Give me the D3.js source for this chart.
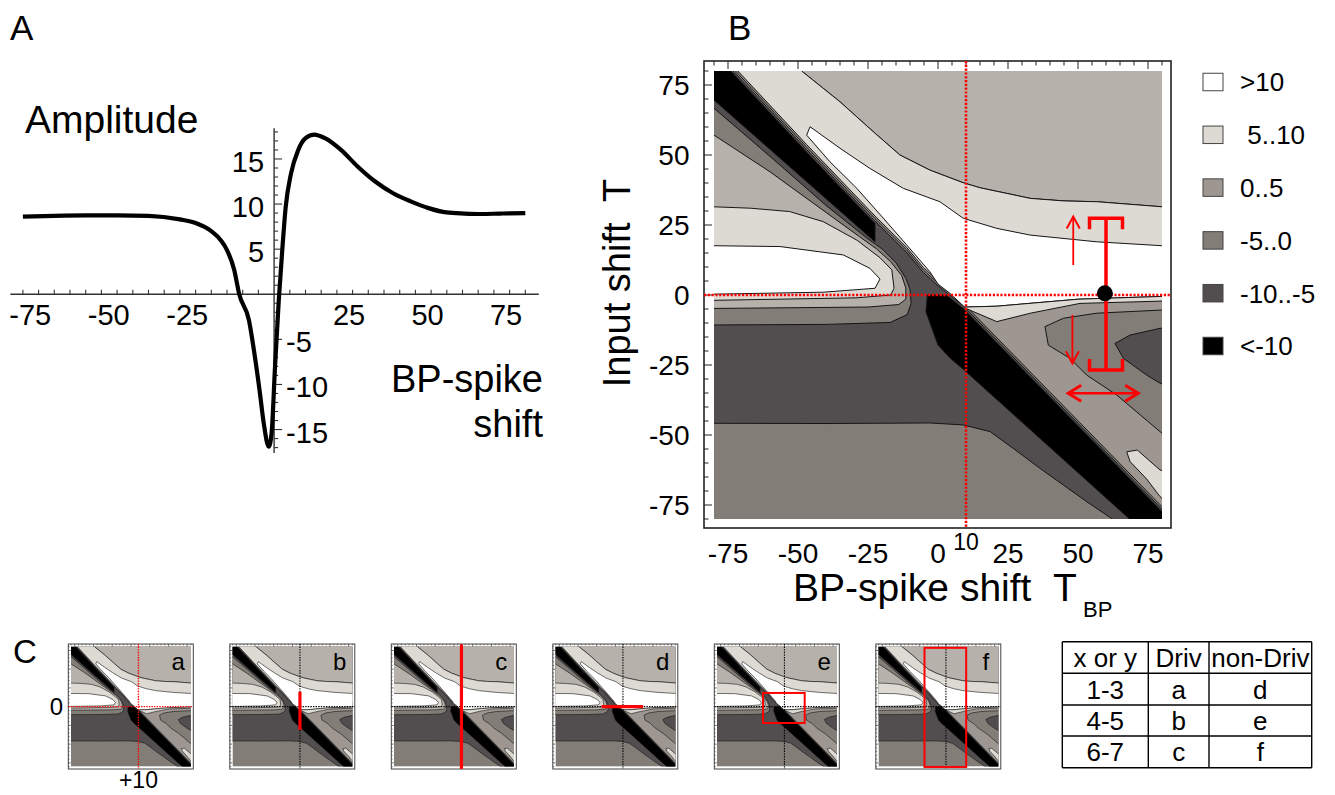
<!DOCTYPE html>
<html><head><meta charset="utf-8">
<script src="https://cdn.jsdelivr.net/npm/d3@7"></script>
<style>
body{margin:0;background:#fff;}
svg text{font-family:"Liberation Sans",Arial,Helvetica,sans-serif;fill:#000;}
</style></head><body>
<svg id="fig" width="1335" height="795"></svg>
<script>
// ================= DATA =================
// Panel A : amplitude vs BP-spike shift
const bpShift   = [-80,-70,-60,-50,-40,-30,-25,-20,-17,-15,-12.7,-11.1,-8,-6.3,-4.5,-3.3,-1.7,-0.8,0.3,1.5,2.6,3.7,5.4,7.7,10,12.8,16.2,21.3,26.5,32.2,37.9,43.5,49.2,54.9,60.6,66,72,80];
const amplitude = [8.6,8.7,8.75,8.75,8.7,8.3,7.9,7.0,6.0,4.9,2.7,0,-2.9,-6.5,-11,-14.3,-16.9,-15.4,-8,-0.6,4.9,9.7,13.4,16,17.3,17.7,17.3,16,14.2,12.5,11.2,10.3,9.55,9.07,8.95,8.9,8.95,9.0];
const xTicksA = [-75,-50,-25,25,50,75];
const yTicksPosA = [5,10,15];
const yTicksNegA = [-5,-10,-15];

// Panel B : axis ticks and markers
const ticksB = [-75,-50,-25,0,25,50,75];
const markShiftBP = 10;   // dotted vertical line (T_BP)
const markShiftT = 0;     // dotted horizontal line (T)
const workPoint = [59.6, 0.6];
const rangeBar = [60, 27.4, -26.8];      // x, top, bottom
const arrowUp = [48.3, 10.7, 28];        // x, from, to
const arrowDown = [48, -7.1, -24.4];
const arrowLR = [-35.1, 46.5, 71.5];     // y, from, to
const legendLabels = [">10", " 5..10", "0..5", "-5..0", "-10..-5", "<-10"];

// Panel B : contour boundaries (T_BP, T)
const diagEdge = [[-86,92],[-74,80],[-46.9,51],[-22.5,25.5],[-11.2,14.3],[-5.2,7.1],[0,2.4],[9,-4.8],[40,-36.5],[80,-77.4],[86,-83.4]];
const blackUpper = [[-86,92],[-74,80],[-46.9,51],[-22.5,25.5],[-22.5,19],[-80,69.6],[-86,74.9]];
const blackLower = [[-3.8,0],[3,0],[9,-4.8],[40,-36.5],[80,-77.4],[86,-83.4],[86,-86],[70,-86],[68.4,-80],[9,-26.5],[4.3,-22.5],[0,-17.9],[-4.3,-6]];
const darkLowerEdge = [[-86,-45.8],[-40,-45.9],[-2.9,-45.7],[9,-46.4],[18.6,-48.8],[26.9,-54.8],[36.4,-61.9],[44.8,-67.9],[53.1,-73.8],[62,-79.8],[66.3,-86]];
const upperBand5 = [[-49.5,86],[-48.7,80],[-35,69],[-23.1,58.3],[-13.6,50],[-2.9,44.6],[9,40.1],[15,38.3],[33,34.5],[45,33.6],[57,33.3],[80,31.5],[86,31.2]];
const upperBand10 = [[-45.7,60.1],[-35,52.4],[-24.3,45.2],[-12.4,38.1],[0.7,33.3],[9,27.4],[21,23.8],[32.9,21.4],[56.7,19],[80,17.6],[86,17.3]];
const whiteDiagEdge = [[9.5,-4.3],[4,0.8],[0,3.9],[-2.9,8.3],[-11.2,17.9],[-19.5,27.4],[-29,38.1],[-38.6,47.6],[-46.9,57.1]];
const lowStrip10 = [[86,-0.3],[50,-1.5],[21,-4],[9.5,-4.3]];
const lowStrip5 = [[9.5,-4.6],[21,-9.5],[33,-6.5],[50.7,-3],[86,-2]];
const pocketMid = [[86,-5.3],[79.3,-5.4],[56.7,-6.5],[44.8,-8.3],[38.2,-11.3],[39.4,-17.9],[47.1,-22.6],[53.1,-28.6],[63.8,-35.7],[79.3,-48.8],[86,-54]];
const pocketDark = [[86,-11.5],[79.3,-11.9],[68.6,-14.3],[63.2,-17.3],[66.2,-22.6],[74.5,-28.6],[79.3,-31.5],[86,-34]];
const pocketLight = [[86,-64],[79.3,-62.5],[71.2,-55.4],[67.4,-56],[68.6,-59.5],[74.5,-65.7],[79.3,-72],[86,-78]];
const hookM5 = [[-86,71.5],[-80,66.7],[-60,49.5],[-40,32],[-25,20],[-20,16.5],[-15,11.5],[-11.5,6],[-10,2],[-9.6,-3],[-11,-7],[-17.1,-9.8],[-40,-10.5],[-80,-10.7],[-86,-10.7]];
const hook0 = [[-86,61],[-80,57.1],[-60,44],[-40,29.5],[-28,20.8],[-22,16.5],[-17,12],[-13,7],[-11.5,2.5],[-11.5,-1.5],[-14,-3.4],[-25,-4.3],[-80,-4.8],[-86,-4.8]];
const hook5 = [[-86,31.5],[-80,31.5],[-67,31],[-53,29.8],[-41,26.2],[-29,19.6],[-20.7,13.3],[-16.5,9],[-15.7,2.4],[-16.9,0],[-29,-1],[-80,-1.9],[-86,-1.9]];
const hook10 = [[-86,17.6],[-80,17.6],[-56.4,17.3],[-33.8,14.3],[-24.3,9.5],[-20.7,5.7],[-22.5,2.4],[-41,1],[-80,0.3],[-86,0.3]];

// Panel C
const panelLetters = ["a","b","c","d","e","f"];
const miniMarks = [
  null,
  {type:"bar",  pts:[[10,20],[10,-31]]},
  {type:"bar",  pts:[[10,83],[10,-83]]},
  {type:"bar",  pts:[[-18.5,0],[37,0]]},
  {type:"rect", pts:[[-18.6,18.3],[37,-21.8]]},
  {type:"rect", pts:[[-18.6,78.5],[37,-80.5]]}
];
const tableHeader = ["x or y","Driv","non-Driv"];
const tableRows = [["1-3","a","d"],["4-5","b","e"],["6-7","c","f"]];

// ================= STYLE =================
const COL = {white:"#ffffff", light:"#dddad4", pale:"#b6b1aa", c0:"#9e9791", mid:"#827d77", dark:"#524e4f", black:"#000000"};
const legendColors = [COL.white, COL.light, COL.c0, COL.mid, COL.dark, COL.black];
const RED = "#f00";

const svg = d3.select("#fig");
const defs = svg.append("defs");

function txt(g, s, x, y, size, anchor){
  return g.append("text").attr("x",x).attr("y",y).attr("font-size",size)
    .attr("text-anchor",anchor||"start").style("white-space","pre").text(s);
}

// ================= PANEL A =================
const gA = svg.append("g");
const xA = d3.scaleLinear().domain([-80,80]).range([22.9,525.3]);
const yA = d3.scaleLinear().domain([-17.6,18.4]).range([453,128.3]);
gA.append("line").attr("x1",xA(-84)).attr("x2",xA(84.3)).attr("y1",yA(0)).attr("y2",yA(0))
  .attr("stroke","#333").attr("stroke-width",1.4);
gA.append("line").attr("x1",xA(0)).attr("x2",xA(0)).attr("y1",yA(-17.6)).attr("y2",yA(18.4))
  .attr("stroke","#333").attr("stroke-width",1.4);
d3.range(-80,81,5).filter(v=>v!==0).forEach(v=>{
  gA.append("line").attr("x1",xA(v)).attr("x2",xA(v)).attr("y1",yA(0)).attr("y2",yA(0)-4.5)
    .attr("stroke","#333").attr("stroke-width",1.1);
});
d3.range(-17,19).filter(v=>v!==0).forEach(v=>{
  gA.append("line").attr("x1",xA(0)).attr("x2",xA(0)+(v%5===0?8:4)).attr("y1",yA(v)).attr("y2",yA(v))
    .attr("stroke","#333").attr("stroke-width",1.1);
});
xTicksA.forEach(v=> txt(gA, String(v), xA(v)-3.5-(v<0?4.8:0), yA(0)+31, 29, "middle"));
yTicksPosA.forEach(v=> txt(gA, String(v), xA(0)-10, yA(v)+13, 29, "end"));
yTicksNegA.forEach(v=> txt(gA, String(v), xA(0)+12, yA(v)+13, 29, "start"));
gA.append("path").datum(bpShift.map((s,i)=>[s,amplitude[i]]))
  .attr("d", d3.line().x(d=>xA(d[0])).y(d=>yA(d[1])).curve(d3.curveMonotoneX))
  .attr("fill","none").attr("stroke","#000").attr("stroke-width",4.2).attr("stroke-linejoin","round");
txt(gA,"A",10,40,35);
txt(gA,"Amplitude",25,133,39);
txt(gA,"BP-spike",543,392,38,"end");
txt(gA,"shift",543,437,38,"end");

// ================= CONTOUR DRAWER =================
function drawContour(g, x, y, sw, clipId){
  const line = d3.line().x(d=>x(d[0])).y(d=>y(d[1]));
  defs.append("clipPath").attr("id",clipId).append("rect")
    .attr("x",x(-80)).attr("y",y(80)).attr("width",x(80)-x(-80)).attr("height",y(-80)-y(80));
  const cg = g.append("g").attr("clip-path",`url(#${clipId})`);
  const poly = (pts, fill) => cg.append("path").attr("d", line(pts)+"Z")
    .attr("fill",fill).attr("stroke","#151515").attr("stroke-width",sw).attr("stroke-linejoin","round");
  cg.append("rect").attr("x",x(-80)).attr("y",y(80)).attr("width",x(80)-x(-80)).attr("height",y(-80)-y(80)).attr("fill",COL.mid);
  poly(darkLowerEdge.concat([[95,-95],[95,95],[-95,95],[-95,-45.8]]), COL.dark);
  const shiftE = k => diagEdge.map(([a,b])=>[a,b+k]);
  const far = [[95,-95],[95,95],[-95,95]];
  poly(shiftE(0.9).concat(far), COL.mid);
  poly(shiftE(1.8).concat(far), COL.c0);
  poly(blackUpper, COL.black);
  poly(blackLower, COL.black);
  poly(upperBand5.concat([[95,31],[95,95],[-50,95]]), COL.pale);
  poly(shiftE(2.7).filter(p=>p[0]<=0).concat([[95,5]], upperBand5.slice().reverse(), [[-50,97]]), COL.light);
  poly(upperBand10.concat(lowStrip10, whiteDiagEdge.slice(1)), COL.white);
  poly(lowStrip10.concat(lowStrip5), COL.light);
  poly(pocketMid, COL.mid);
  poly(pocketDark, COL.dark);
  poly(pocketLight, COL.light);
  poly(hookM5, COL.mid);
  poly(hook0, COL.pale);
  poly(hook5, COL.light);
  poly(hook10, COL.white);
}

// ================= PANEL B =================
const gB = svg.append("g");
const xB = d3.scaleLinear().domain([-80,80]).range([714,1162]);
const yB = d3.scaleLinear().domain([-80,80]).range([519,71]);
drawContour(gB, xB, yB, 1, "clipB");
const fL=704, fT=61, fR=1171, fBt=528;
gB.append("rect").attr("x",fL).attr("y",fT).attr("width",fR-fL).attr("height",fBt-fT)
  .attr("fill","none").attr("stroke","#222").attr("stroke-width",1.6);
d3.range(-80,81,5).forEach(v=>{
  const len = v%25===0 ? 8 : 4.5;
  gB.append("line").attr("x1",fL).attr("x2",fL+len).attr("y1",yB(v)).attr("y2",yB(v)).attr("stroke","#222").attr("stroke-width",1);
  gB.append("line").attr("x1",xB(v)).attr("x2",xB(v)).attr("y1",fT).attr("y2",fT+len).attr("stroke","#222").attr("stroke-width",1);
});
ticksB.forEach(v=>{
  txt(gB, String(v), 689.5, yB(v)+10, 28, "end");
  txt(gB, String(v), xB(v), 563, 28, "middle");
});
txt(gB, String(markShiftBP), xB(markShiftBP), 550, 23, "middle");
// dotted red guides
gB.append("line").attr("x1",xB(markShiftBP)).attr("x2",xB(markShiftBP)).attr("y1",fT).attr("y2",fBt)
  .attr("stroke",RED).attr("stroke-width",2.6).attr("stroke-dasharray","2.2,1.6");
gB.append("line").attr("x1",fL).attr("x2",fR).attr("y1",yB(markShiftT)).attr("y2",yB(markShiftT))
  .attr("stroke",RED).attr("stroke-width",2.6).attr("stroke-dasharray","2.2,1.6");
// range bar (I-beam)
{
  const bx = xB(rangeBar[0]), t = yB(rangeBar[1]), b = yB(rangeBar[2]);
  const hw = 16.5, tk = 11;
  gB.append("path").attr("d",
    `M${bx},${t}V${b} M${bx-hw},${t+tk}V${t}H${bx+hw}V${t+tk} M${bx-hw},${b-tk}V${b}H${bx+hw}V${b-tk}`)
    .attr("fill","none").attr("stroke",RED).attr("stroke-width",3.5);
}
// arrows
function chevron(g, x, y, dir, len, half, w){
  let d;
  if(dir==="up") d=`M${x-half},${y+len}L${x},${y}L${x+half},${y+len}`;
  if(dir==="down") d=`M${x-half},${y-len}L${x},${y}L${x+half},${y-len}`;
  if(dir==="left") d=`M${x+len},${y-half}L${x},${y}L${x+len},${y+half}`;
  if(dir==="right") d=`M${x-len},${y-half}L${x},${y}L${x-len},${y+half}`;
  g.append("path").attr("d",d).attr("fill","none").attr("stroke",RED).attr("stroke-width",w);
}
gB.append("line").attr("x1",xB(arrowUp[0])).attr("x2",xB(arrowUp[0])).attr("y1",yB(arrowUp[1])).attr("y2",yB(arrowUp[2]))
  .attr("stroke",RED).attr("stroke-width",1.8);
chevron(gB, xB(arrowUp[0]), yB(arrowUp[2]), "up", 12, 6.5, 2);
gB.append("line").attr("x1",xB(arrowDown[0])).attr("x2",xB(arrowDown[0])).attr("y1",yB(arrowDown[1])).attr("y2",yB(arrowDown[2]))
  .attr("stroke",RED).attr("stroke-width",1.8);
chevron(gB, xB(arrowDown[0]), yB(arrowDown[2]), "down", 12, 6.5, 2);
gB.append("line").attr("x1",xB(arrowLR[1])).attr("x2",xB(arrowLR[2])).attr("y1",yB(arrowLR[0])).attr("y2",yB(arrowLR[0]))
  .attr("stroke",RED).attr("stroke-width",2.6);
chevron(gB, xB(arrowLR[1]), yB(arrowLR[0]), "left", 13, 8, 3);
chevron(gB, xB(arrowLR[2]), yB(arrowLR[0]), "right", 13, 8, 3);
gB.append("circle").attr("cx",xB(workPoint[0])).attr("cy",yB(workPoint[1])).attr("r",8).attr("fill","#000");
// titles
txt(gB,"B",728,40,35);
gB.append("text").attr("transform","translate(630,283) rotate(-90)").attr("text-anchor","middle")
  .attr("font-size",38).style("white-space","pre").text("Input shift  T");
txt(gB,"BP-spike shift",793,601,39);
txt(gB,"T",1053,601,39);
txt(gB,"BP",1083,617,22);
// legend
const ly = d3.scalePoint().domain(legendLabels).range([82,346]);
legendLabels.forEach((lab,i)=>{
  const cy = ly(lab);
  gB.append("rect").attr("x",1203).attr("y",cy-8.75).attr("width",20).attr("height",17.5)
    .attr("fill",legendColors[i]).attr("stroke","#444").attr("stroke-width",1);
  txt(gB, lab, 1240, cy+9.3, 26);
});

// ================= PANEL C =================
const gC = svg.append("g");
txt(gC,"C",13,663,33);
panelLetters.forEach((lab,i)=>{
  const L = 68.3 + i*161.5, T = 644, S = 125;
  const g = gC.append("g");
  const x = d3.scaleLinear().domain([-80,80]).range([L+2.7, L+122.6]);
  const y = d3.scaleLinear().domain([-80,80]).range([T+122.6, T+2.7]);
  drawContour(g, x, y, 0.6, "clipM"+i);
  g.append("rect").attr("x",L).attr("y",T).attr("width",S).attr("height",S)
    .attr("fill","none").attr("stroke","#444").attr("stroke-width",1);
  d3.range(-80,81,5).forEach(v=>{
    const len = v%25===0 ? 2.4 : 1.3;
    g.append("line").attr("x1",L).attr("x2",L+len).attr("y1",y(v)).attr("y2",y(v)).attr("stroke","#333").attr("stroke-width",0.7);
    g.append("line").attr("x1",x(v)).attr("x2",x(v)).attr("y1",T).attr("y2",T+len).attr("stroke","#333").attr("stroke-width",0.7);
  });
  const gc = i===0 ? RED : "#000";
  const gw = i===0 ? 1.4 : 1.1;
  g.append("line").attr("x1",x(markShiftBP)).attr("x2",x(markShiftBP)).attr("y1",T).attr("y2",T+S)
    .attr("stroke",gc).attr("stroke-width",gw).attr("stroke-dasharray","1.4,1.2");
  g.append("line").attr("x1",L).attr("x2",L+S).attr("y1",y(markShiftT)).attr("y2",y(markShiftT))
    .attr("stroke",gc).attr("stroke-width",gw).attr("stroke-dasharray","1.4,1.2");
  const m = miniMarks[i];
  if(m && m.type==="bar"){
    g.append("line").attr("x1",x(m.pts[0][0])).attr("x2",x(m.pts[1][0])).attr("y1",y(m.pts[0][1])).attr("y2",y(m.pts[1][1]))
      .attr("stroke",RED).attr("stroke-width",3.2);
  }
  if(m && m.type==="rect"){
    g.append("rect").attr("x",x(m.pts[0][0])).attr("y",y(m.pts[0][1]))
      .attr("width",x(m.pts[1][0])-x(m.pts[0][0])).attr("height",y(m.pts[1][1])-y(m.pts[0][1]))
      .attr("fill","none").attr("stroke",RED).attr("stroke-width",2);
  }
  txt(g, lab, L+110, 670, 24, "middle");
  if(i===0){
    txt(gC, "0", 63, y(0)+8.5, 24, "end");
    txt(gC, "+10", x(10), 788, 23, "middle");
  }
});

// table
const colX = [1062.3,1148.3,1209,1311.7];
const rowY = [641.7,673.3,705,736,767.7];
const gT = svg.append("g");
rowY.forEach(yy=> gT.append("line").attr("x1",colX[0]).attr("x2",colX[3]).attr("y1",yy).attr("y2",yy).attr("stroke","#000").attr("stroke-width",1.4));
colX.forEach(xx=> gT.append("line").attr("x1",xx).attr("x2",xx).attr("y1",rowY[0]).attr("y2",rowY[4]).attr("stroke","#000").attr("stroke-width",1.4));
[tableHeader].concat(tableRows).forEach((row,r)=>{
  row.forEach((cell,c)=>{
    txt(gT, cell, (colX[c]+colX[c+1])/2, rowY[r+1]-6.5, 26, "middle");
  });
});
</script></body></html>
